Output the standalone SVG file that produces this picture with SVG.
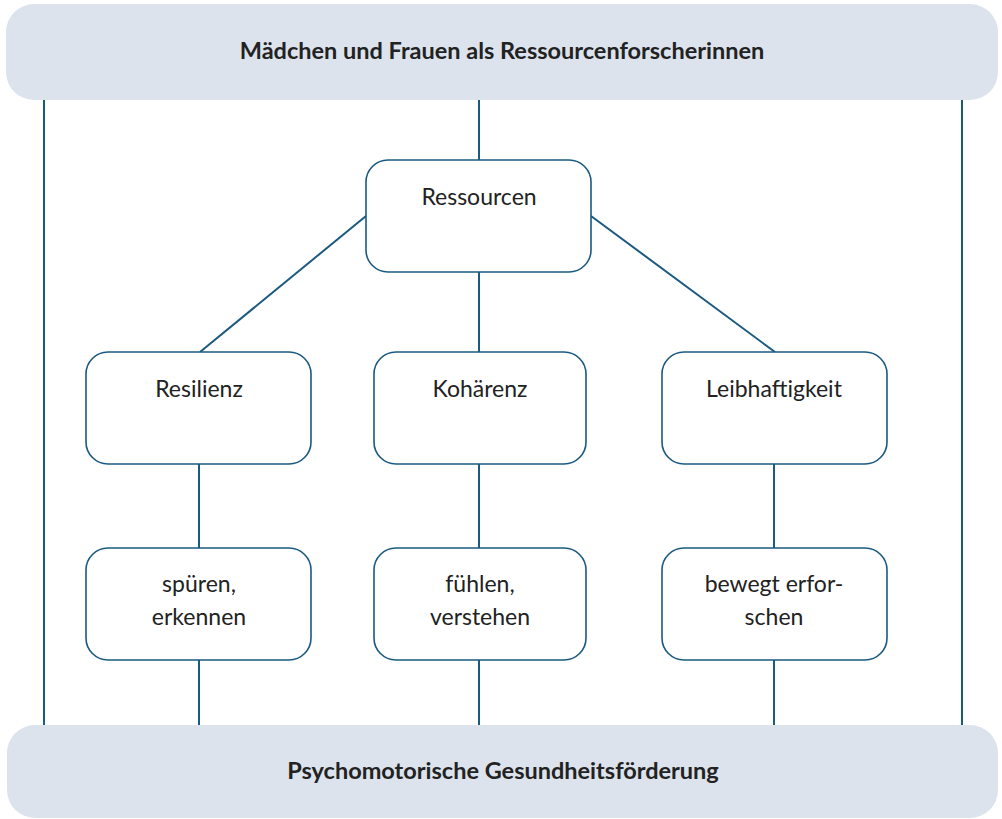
<svg xmlns="http://www.w3.org/2000/svg" width="1002" height="819" viewBox="0 0 1002 819">
<style>
.banner{fill:#dce3ec}
.node{fill:#fff;stroke:#1b5a80;stroke-width:1.6}
.ln{stroke:#1b5a80;stroke-width:2;fill:none}
.t{font-family:Lato,"Open Sans",sans-serif;font-size:23px;fill:#222;text-anchor:middle}
.h{font-family:Lato,"Open Sans",sans-serif;font-size:23.5px;font-weight:bold;fill:#222;text-anchor:middle}
</style>
<rect width="1002" height="819" fill="#fff"/>
<g id="connectors">
<line class="ln" x1="44" y1="100" x2="44" y2="725"/>
<line class="ln" x1="962" y1="100" x2="962" y2="725"/>
<line class="ln" x1="479" y1="100" x2="479" y2="160"/>
<line class="ln" x1="366" y1="216" x2="200" y2="352"/>
<line class="ln" x1="591" y1="216" x2="775" y2="352"/>
<line class="ln" x1="479" y1="272" x2="479" y2="352"/>
<line class="ln" x1="199" y1="464" x2="199" y2="548"/>
<line class="ln" x1="479" y1="464" x2="479" y2="548"/>
<line class="ln" x1="774" y1="464" x2="774" y2="548"/>
<line class="ln" x1="199" y1="660" x2="199" y2="725"/>
<line class="ln" x1="479" y1="660" x2="479" y2="725"/>
<line class="ln" x1="774" y1="660" x2="774" y2="725"/>
</g>
<g id="top">
<rect class="banner" x="6" y="4" width="992" height="96" rx="28"/>
<text class="h" x="502" y="59">Mädchen und Frauen als Ressourcenforscherinnen</text>
</g>
<g id="bottom">
<rect class="banner" x="7" y="725" width="991" height="93" rx="28"/>
<text class="h" x="503" y="779">Psychomotorische Gesundheitsförderung</text>
</g>
<g id="ressourcen">
<rect class="node" x="366" y="160" width="225" height="112" rx="22"/>
<text class="t" x="479" y="205">Ressourcen</text>
</g>
<g id="resilienz">
<rect class="node" x="86" y="352" width="225" height="112" rx="22"/>
<text class="t" x="199" y="397">Resilienz</text>
</g>
<g id="kohaerenz">
<rect class="node" x="374" y="352" width="212" height="112" rx="22"/>
<text class="t" x="480" y="397">Kohärenz</text>
</g>
<g id="leibhaftigkeit">
<rect class="node" x="662" y="352" width="225" height="112" rx="22"/>
<text class="t" x="774" y="397">Leibhaftigkeit</text>
</g>
<g id="spueren">
<rect class="node" x="86" y="548" width="225" height="112" rx="22"/>
<text class="t" x="199" y="592">spüren,</text>
<text class="t" x="199" y="625">erkennen</text>
</g>
<g id="fuehlen">
<rect class="node" x="374" y="548" width="212" height="112" rx="22"/>
<text class="t" x="480" y="592">fühlen,</text>
<text class="t" x="480" y="625">verstehen</text>
</g>
<g id="bewegt">
<rect class="node" x="662" y="548" width="225" height="112" rx="22"/>
<text class="t" x="774" y="592">bewegt erfor-</text>
<text class="t" x="774" y="625">schen</text>
</g>
</svg>
